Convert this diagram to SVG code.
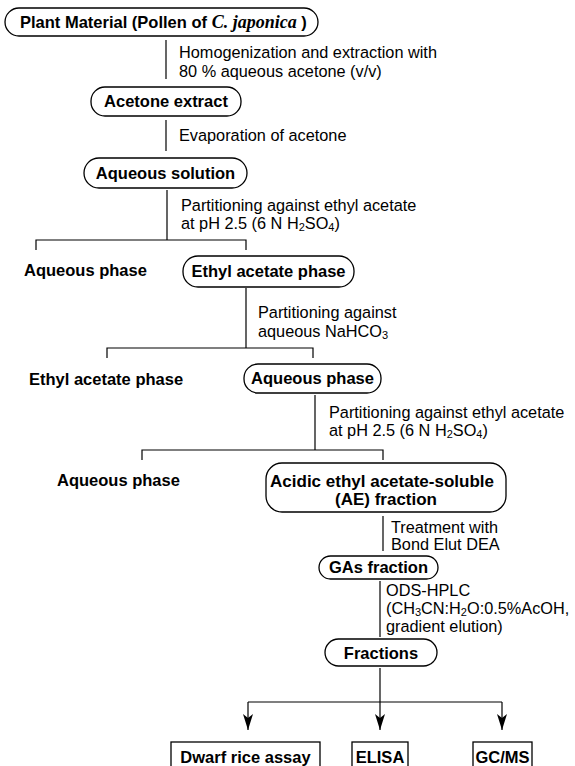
<svg xmlns="http://www.w3.org/2000/svg" width="575" height="766" viewBox="0 0 575 766">
<style>
.box{fill:#fff;stroke:#000;stroke-width:1.3}
.b{font-family:"Liberation Sans",Arial,sans-serif;font-weight:bold;font-size:16.5px;fill:#000}
.n{font-family:"Liberation Sans",Arial,sans-serif;font-size:16.3px;fill:#000}
.it{font-family:"Liberation Serif","Times New Roman",serif;font-style:italic;font-weight:bold;font-size:18px}
.sub{font-size:11px}
.ln{stroke:#000;stroke-width:1.2;fill:none}
</style>
<defs>
<marker id="arr" viewBox="0 0 16 10" refX="16" refY="5" markerWidth="16" markerHeight="10" markerUnits="userSpaceOnUse" orient="auto">
<path d="M0,0 L16,5 L0,10 L4,5 z" fill="#000"/>
</marker>
</defs>
<rect width="575" height="766" fill="#fff"/>
<g id="connectors">
<path class="ln" d="M166,40 V79"/>
<path class="ln" d="M166,120 V151"/>
<path class="ln" d="M167,190 V240 M36,250 V240 H246 V250"/>
<path class="ln" d="M246,288 V348 M107,358 V348 H313 V358"/>
<path class="ln" d="M315,395 V450 M142,460 V450 H383 V460"/>
<path class="ln" d="M383,516 V551"/>
<path class="ln" d="M380,581 V637"/>
<path class="ln" d="M380,668 V730" marker-end="url(#arr)"/>
<path class="ln" d="M248,702 H502"/>
<path class="ln" d="M248,702 V730" marker-end="url(#arr)"/>
<path class="ln" d="M502,702 V730" marker-end="url(#arr)"/>
<text class="n" x="179" y="58">Homogenization and extraction with</text>
<text class="n" x="179" y="77">80 %  aqueous acetone (v/v)</text>
<text class="n" x="179" y="141">Evaporation of acetone</text>
<text class="n" x="181" y="211">Partitioning against ethyl acetate</text>
<text class="n" x="181" y="229">at pH 2.5 (6 N H<tspan class="sub" dy="2">2</tspan><tspan dy="-2">SO</tspan><tspan class="sub" dy="2">4</tspan><tspan dy="-2">)</tspan></text>
<text class="n" x="258" y="318">Partitioning against</text>
<text class="n" x="258" y="337">aqueous NaHCO<tspan class="sub" dy="2">3</tspan></text>
<text class="n" x="329" y="418">Partitioning against ethyl acetate</text>
<text class="n" x="329" y="436">at pH 2.5 (6 N H<tspan class="sub" dy="2">2</tspan><tspan dy="-2">SO</tspan><tspan class="sub" dy="2">4</tspan><tspan dy="-2">)</tspan></text>
<text class="n" x="391" y="533">Treatment with</text>
<text class="n" x="391" y="550">Bond Elut DEA</text>
<text class="n" x="386" y="596">ODS-HPLC</text>
<text class="n" x="386" y="614">(CH<tspan class="sub" dy="2">3</tspan><tspan dy="-2">CN:H</tspan><tspan class="sub" dy="2">2</tspan><tspan dy="-2">O:0.5%AcOH,</tspan></text>
<text class="n" x="386" y="632">gradient elution)</text>
</g>
<g id="plant">
<rect class="box" x="5" y="8" width="313" height="28" rx="14"/>
<text class="b" x="20" y="28">Plant Material (Pollen of <tspan class="it">C. japonica</tspan> )</text>
</g>
<g id="acetone">
<rect class="box" x="91" y="87" width="150" height="29" rx="14"/>
<text class="b" x="166" y="107" text-anchor="middle">Acetone extract</text>
</g>
<g id="aqsol">
<rect class="box" x="84" y="158" width="163" height="30" rx="15"/>
<text class="b" x="165.5" y="179" text-anchor="middle">Aqueous solution</text>
</g>
<g id="aq1">
<text class="b" x="24" y="276">Aqueous phase</text>
</g>
<g id="ea1">
<rect class="box" x="183" y="256" width="171" height="31" rx="15"/>
<text class="b" x="268.5" y="277" text-anchor="middle">Ethyl acetate phase</text>
</g>
<g id="ea2">
<text class="b" x="29" y="385">Ethyl acetate phase</text>
</g>
<g id="aq2">
<rect class="box" x="244" y="364" width="137" height="29" rx="14"/>
<text class="b" x="312.5" y="384" text-anchor="middle">Aqueous phase</text>
</g>
<g id="aq3">
<text class="b" x="57" y="486">Aqueous phase</text>
</g>
<g id="ae">
<rect class="box" x="266" y="463" width="240" height="49" rx="16"/>
<text class="b" x="382" y="487" text-anchor="middle" style="font-size:17px">Acidic ethyl acetate-soluble</text>
<text class="b" x="386" y="505" text-anchor="middle" style="font-size:17px">(AE) fraction</text>
</g>
<g id="gas">
<rect class="box" x="319" y="556" width="119" height="23" rx="11.5"/>
<text class="b" x="378.5" y="573" text-anchor="middle">GAs fraction</text>
</g>
<g id="fractions">
<rect class="box" x="325" y="639" width="112" height="27" rx="13.5"/>
<text class="b" x="381" y="659" text-anchor="middle">Fractions</text>
</g>
<g id="dwarf">
<rect class="box" x="171" y="742" width="149" height="30"/>
<text class="b" x="245.5" y="763" text-anchor="middle">Dwarf rice assay</text>
</g>
<g id="elisa">
<rect class="box" x="352" y="742" width="56" height="30"/>
<text class="b" x="380" y="763" text-anchor="middle">ELISA</text>
</g>
<g id="gcms">
<rect class="box" x="473" y="742" width="59" height="30"/>
<text class="b" x="502.5" y="763" text-anchor="middle">GC/MS</text>
</g>
</svg>
